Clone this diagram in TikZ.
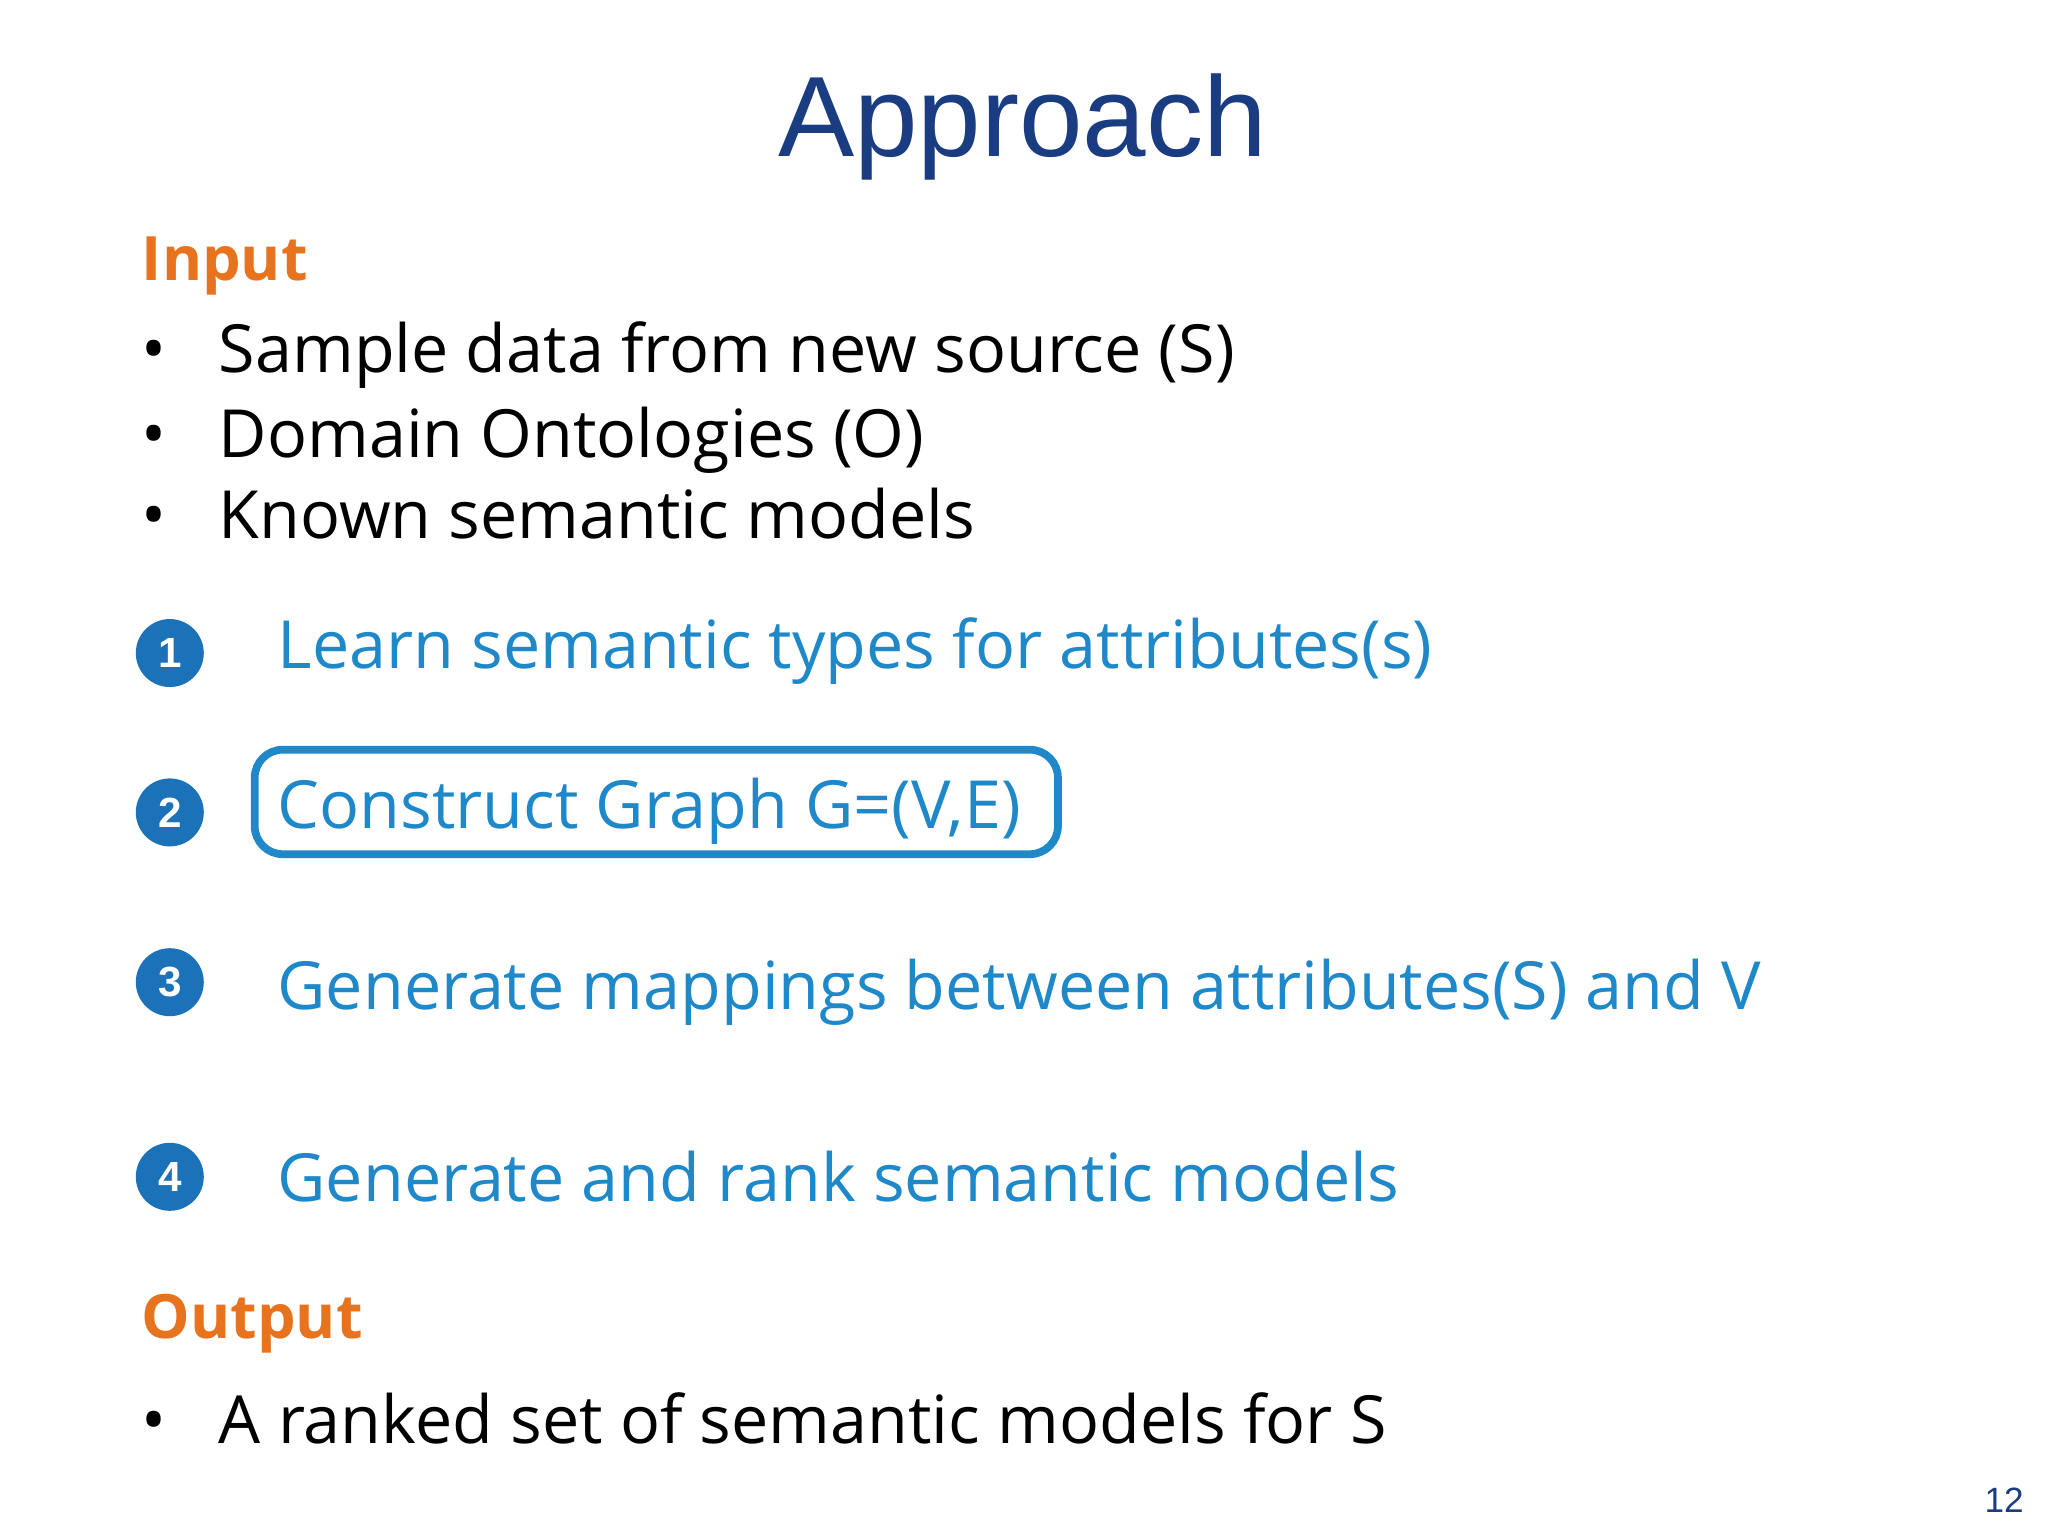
\documentclass[tikz,border=0pt]{standalone}
\usepackage{fontspec}
\setmainfont{Open Sans}
\newfontfamily\titlefont{Liberation Sans}
\definecolor{titleblue}{HTML}{1A3C80}
\definecolor{headorange}{HTML}{E8731E}
\definecolor{stepblue}{HTML}{1F88C8}
\definecolor{circleblue}{HTML}{1B72B8}
\tikzset{
  body/.style={anchor=base west, inner sep=0pt, font=\fontsize{18.9}{23}\selectfont},
  head/.style={body, text=headorange, font=\fontsize{17.4}{21}\selectfont\bfseries},
  steptext/.style={body, text=stepblue},
  num/.style={circle, fill=circleblue, minimum size=0.68cm, inner sep=0pt, text=white, font=\titlefont\bfseries\fontsize{12}{14}\selectfont},
}
\begin{document}
\begin{tikzpicture}[x=0.01306cm, y=-0.01306cm]
    \useasboundingbox (0,0) rectangle (1568,1176);
    % Titel
    \node[anchor=base, inner sep=0pt, text=titleblue, font=\titlefont\fontsize{32.5}{38}\selectfont] (title) at (783,120) {Approach};

    % Input
    \node[head] (input) at (108,215) {Input};
    \foreach \y/\t [count=\i] in {285/Sample data from new source (S), 350/Domain Ontologies (O), 412/Known semantic models} {
        \node[body] (bul\i) at (108,\y) {•};
        \node[body] (in\i) at (167,\y) {\t};
    }

    % Schritte
    \foreach \cy/\by/\t [count=\i] in {500/512/Learn semantic types for attributes(s), 622/634/{Construct Graph G=(V,E)}, 752/773/Generate mappings between attributes(S) and V, 901/920/Generate and rank semantic models} {
        \node[num] (n\i) at (130,\cy) {\i};
        \node[steptext] (s\i) at (212,\by) {\t};
    }
    \draw[stepblue, line width=2.2pt, rounded corners=8pt] (195,574) rectangle (810,654);

    % Output
    \node[head] (output) at (108,1025) {Output};
    \node[body] (bul4) at (108,1105) {•};
    \node[body] (out1) at (167,1105) {A ranked set of semantic models for S};

    \node[anchor=base east, inner sep=0pt, text=titleblue, font=\titlefont\fontsize{10}{12}\selectfont] (page) at (1550,1158) {12};
\end{tikzpicture}
\end{document}
